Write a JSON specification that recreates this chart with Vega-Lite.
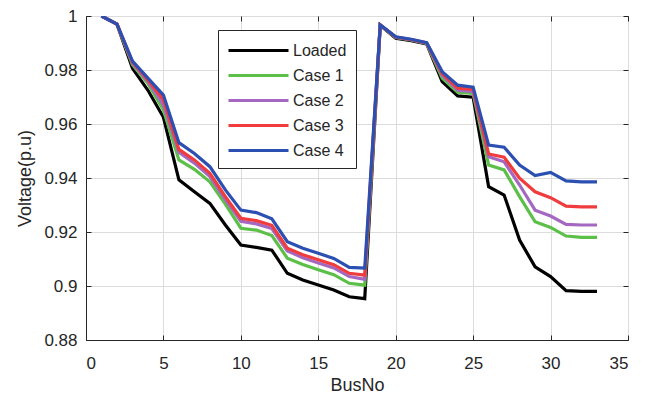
{
  "$schema": "https://vega.github.io/schema/vega-lite/v6.json",
  "autosize": {"type": "none"},
  "padding": {"left": 86, "top": 16, "right": 23, "bottom": 62},
  "width": 542,
  "height": 324,
  "background": "white",
  "config": {
    "font": "Liberation Sans",
    "view": {"stroke": "#262626", "strokeWidth": 1},
    "axis": {
      "labelFont": "Liberation Sans",
      "titleFont": "Liberation Sans",
      "labelColor": "#262626",
      "titleColor": "#262626",
      "labelFontSize": 17,
      "titleFontSize": 18,
      "titleFontWeight": "normal",
      "domainColor": "#262626",
      "tickColor": "#262626",
      "gridColor": "#dcdcdc",
      "gridWidth": 1
    }
  },
  "data": {"values": [
    {"bus":1,"series":"Loaded","v":1},{"bus":1,"series":"Case 1","v":1},{"bus":1,"series":"Case 2","v":1},{"bus":1,"series":"Case 3","v":1},{"bus":1,"series":"Case 4","v":1},
    {"bus":2,"series":"Loaded","v":0.997},{"bus":2,"series":"Case 1","v":0.997},{"bus":2,"series":"Case 2","v":0.997},{"bus":2,"series":"Case 3","v":0.997},{"bus":2,"series":"Case 4","v":0.997},
    {"bus":3,"series":"Loaded","v":0.9806},{"bus":3,"series":"Case 1","v":0.982},{"bus":3,"series":"Case 2","v":0.9825},{"bus":3,"series":"Case 3","v":0.983},{"bus":3,"series":"Case 4","v":0.9833},
    {"bus":4,"series":"Loaded","v":0.9725},{"bus":4,"series":"Case 1","v":0.975},{"bus":4,"series":"Case 2","v":0.9758},{"bus":4,"series":"Case 3","v":0.9763},{"bus":4,"series":"Case 4","v":0.977},
    {"bus":5,"series":"Loaded","v":0.9625},{"bus":5,"series":"Case 1","v":0.9652},{"bus":5,"series":"Case 2","v":0.967},{"bus":5,"series":"Case 3","v":0.969},{"bus":5,"series":"Case 4","v":0.9707},
    {"bus":6,"series":"Loaded","v":0.9393},{"bus":6,"series":"Case 1","v":0.9467},{"bus":6,"series":"Case 2","v":0.9495},{"bus":6,"series":"Case 3","v":0.9506},{"bus":6,"series":"Case 4","v":0.9531},
    {"bus":7,"series":"Loaded","v":0.9349},{"bus":7,"series":"Case 1","v":0.9432},{"bus":7,"series":"Case 2","v":0.9455},{"bus":7,"series":"Case 3","v":0.9467},{"bus":7,"series":"Case 4","v":0.9491},
    {"bus":8,"series":"Loaded","v":0.9306},{"bus":8,"series":"Case 1","v":0.9386},{"bus":8,"series":"Case 2","v":0.9405},{"bus":8,"series":"Case 3","v":0.9417},{"bus":8,"series":"Case 4","v":0.9442},
    {"bus":9,"series":"Loaded","v":0.9226},{"bus":9,"series":"Case 1","v":0.9303},{"bus":9,"series":"Case 2","v":0.932},{"bus":9,"series":"Case 3","v":0.9331},{"bus":9,"series":"Case 4","v":0.9356},
    {"bus":10,"series":"Loaded","v":0.9152},{"bus":10,"series":"Case 1","v":0.9214},{"bus":10,"series":"Case 2","v":0.924},{"bus":10,"series":"Case 3","v":0.9251},{"bus":10,"series":"Case 4","v":0.9281},
    {"bus":11,"series":"Loaded","v":0.9143},{"bus":11,"series":"Case 1","v":0.9207},{"bus":11,"series":"Case 2","v":0.923},{"bus":11,"series":"Case 3","v":0.9242},{"bus":11,"series":"Case 4","v":0.9272},
    {"bus":12,"series":"Loaded","v":0.9133},{"bus":12,"series":"Case 1","v":0.9187},{"bus":12,"series":"Case 2","v":0.9213},{"bus":12,"series":"Case 3","v":0.9225},{"bus":12,"series":"Case 4","v":0.9249},
    {"bus":13,"series":"Loaded","v":0.9047},{"bus":13,"series":"Case 1","v":0.9103},{"bus":13,"series":"Case 2","v":0.913},{"bus":13,"series":"Case 3","v":0.914},{"bus":13,"series":"Case 4","v":0.9164},
    {"bus":14,"series":"Loaded","v":0.9022},{"bus":14,"series":"Case 1","v":0.908},{"bus":14,"series":"Case 2","v":0.9105},{"bus":14,"series":"Case 3","v":0.9116},{"bus":14,"series":"Case 4","v":0.914},
    {"bus":15,"series":"Loaded","v":0.9004},{"bus":15,"series":"Case 1","v":0.906},{"bus":15,"series":"Case 2","v":0.9085},{"bus":15,"series":"Case 3","v":0.9097},{"bus":15,"series":"Case 4","v":0.9121},
    {"bus":16,"series":"Loaded","v":0.8985},{"bus":16,"series":"Case 1","v":0.9042},{"bus":16,"series":"Case 2","v":0.9067},{"bus":16,"series":"Case 3","v":0.9079},{"bus":16,"series":"Case 4","v":0.9102},
    {"bus":17,"series":"Loaded","v":0.896},{"bus":17,"series":"Case 1","v":0.901},{"bus":17,"series":"Case 2","v":0.9035},{"bus":17,"series":"Case 3","v":0.9047},{"bus":17,"series":"Case 4","v":0.9069},
    {"bus":18,"series":"Loaded","v":0.8953},{"bus":18,"series":"Case 1","v":0.9003},{"bus":18,"series":"Case 2","v":0.9025},{"bus":18,"series":"Case 3","v":0.904},{"bus":18,"series":"Case 4","v":0.9066},
    {"bus":19,"series":"Loaded","v":0.9966},{"bus":19,"series":"Case 1","v":0.9966},{"bus":19,"series":"Case 2","v":0.9967},{"bus":19,"series":"Case 3","v":0.9967},{"bus":19,"series":"Case 4","v":0.9967},
    {"bus":20,"series":"Loaded","v":0.9918},{"bus":20,"series":"Case 1","v":0.992},{"bus":20,"series":"Case 2","v":0.9921},{"bus":20,"series":"Case 3","v":0.9922},{"bus":20,"series":"Case 4","v":0.9923},
    {"bus":21,"series":"Loaded","v":0.9909},{"bus":21,"series":"Case 1","v":0.9911},{"bus":21,"series":"Case 2","v":0.9912},{"bus":21,"series":"Case 3","v":0.9913},{"bus":21,"series":"Case 4","v":0.9914},
    {"bus":22,"series":"Loaded","v":0.9897},{"bus":22,"series":"Case 1","v":0.9898},{"bus":22,"series":"Case 2","v":0.9899},{"bus":22,"series":"Case 3","v":0.99},{"bus":22,"series":"Case 4","v":0.9901},
    {"bus":23,"series":"Loaded","v":0.9757},{"bus":23,"series":"Case 1","v":0.977},{"bus":23,"series":"Case 2","v":0.978},{"bus":23,"series":"Case 3","v":0.9787},{"bus":23,"series":"Case 4","v":0.9794},
    {"bus":24,"series":"Loaded","v":0.9704},{"bus":24,"series":"Case 1","v":0.9718},{"bus":24,"series":"Case 2","v":0.9725},{"bus":24,"series":"Case 3","v":0.9733},{"bus":24,"series":"Case 4","v":0.9744},
    {"bus":25,"series":"Loaded","v":0.9699},{"bus":25,"series":"Case 1","v":0.9713},{"bus":25,"series":"Case 2","v":0.972},{"bus":25,"series":"Case 3","v":0.9728},{"bus":25,"series":"Case 4","v":0.9736},
    {"bus":26,"series":"Loaded","v":0.9368},{"bus":26,"series":"Case 1","v":0.9448},{"bus":26,"series":"Case 2","v":0.9479},{"bus":26,"series":"Case 3","v":0.9489},{"bus":26,"series":"Case 4","v":0.9522},
    {"bus":27,"series":"Loaded","v":0.9337},{"bus":27,"series":"Case 1","v":0.943},{"bus":27,"series":"Case 2","v":0.946},{"bus":27,"series":"Case 3","v":0.9477},{"bus":27,"series":"Case 4","v":0.9514},
    {"bus":28,"series":"Loaded","v":0.917},{"bus":28,"series":"Case 1","v":0.9331},{"bus":28,"series":"Case 2","v":0.9374},{"bus":28,"series":"Case 3","v":0.9399},{"bus":28,"series":"Case 4","v":0.9448},
    {"bus":29,"series":"Loaded","v":0.9071},{"bus":29,"series":"Case 1","v":0.9238},{"bus":29,"series":"Case 2","v":0.9281},{"bus":29,"series":"Case 3","v":0.9349},{"bus":29,"series":"Case 4","v":0.9409},
    {"bus":30,"series":"Loaded","v":0.9035},{"bus":30,"series":"Case 1","v":0.9217},{"bus":30,"series":"Case 2","v":0.9259},{"bus":30,"series":"Case 3","v":0.9327},{"bus":30,"series":"Case 4","v":0.9421},
    {"bus":31,"series":"Loaded","v":0.8983},{"bus":31,"series":"Case 1","v":0.9185},{"bus":31,"series":"Case 2","v":0.9228},{"bus":31,"series":"Case 3","v":0.9296},{"bus":31,"series":"Case 4","v":0.9389},
    {"bus":32,"series":"Loaded","v":0.898},{"bus":32,"series":"Case 1","v":0.918},{"bus":32,"series":"Case 2","v":0.9226},{"bus":32,"series":"Case 3","v":0.9293},{"bus":32,"series":"Case 4","v":0.9386},
    {"bus":33,"series":"Loaded","v":0.898},{"bus":33,"series":"Case 1","v":0.918},{"bus":33,"series":"Case 2","v":0.9226},{"bus":33,"series":"Case 3","v":0.9293},{"bus":33,"series":"Case 4","v":0.9386}
  ]},
  "layer": [
    {
      "mark": {"type": "point", "opacity": 0},
      "encoding": {
        "x": {"field": "bus", "type": "quantitative", "scale": {"domain": [0, 35], "nice": false, "zero": false},
              "axis": {"orient": "top", "labels": false, "title": null, "grid": false, "domain": false, "values": [0,5,10,15,20,25,30,35], "tickSize": -5}},
        "y": {"field": "v", "type": "quantitative", "scale": {"domain": [0.88, 1], "nice": false, "zero": false},
              "axis": {"orient": "right", "labels": false, "title": null, "grid": false, "domain": false, "values": [0.88,0.9,0.92,0.94,0.96,0.98,1], "tickSize": -5}}
      }
    },
    {
      "mark": {"type": "line", "strokeWidth": 3.2, "clip": true},
      "encoding": {
        "x": {"field": "bus", "type": "quantitative", "scale": {"domain": [0, 35], "nice": false, "zero": false},
              "axis": {"orient": "bottom", "title": "BusNo", "values": [0,5,10,15,20,25,30,35], "tickSize": -5, "labelPadding": 20, "titlePadding": 5, "grid": true}},
        "y": {"field": "v", "type": "quantitative", "scale": {"domain": [0.88, 1], "nice": false, "zero": false},
              "axis": {"orient": "left", "title": "Voltage(p.u)", "values": [0.88,0.9,0.92,0.94,0.96,0.98,1], "format": "~g", "tickSize": -5, "labelPadding": 14, "titlePadding": 9, "grid": true}},
        "color": {"field": "series", "type": "nominal",
                  "scale": {"domain": ["Loaded", "Case 1", "Case 2", "Case 3", "Case 4"], "range": ["#000000", "#5cbf48", "#a468c2", "#f03c3c", "#2c4fb2"]},
                  "legend": {"title": null, "orient": "none", "legendX": 132, "legendY": 14,
                             "symbolType": "M-3,0H3", "symbolSize": 400, "symbolStrokeWidth": 3, "symbolOffset": 20,
                             "labelFontSize": 16, "labelColor": "#262626", "labelFont": "Liberation Sans",
                             "strokeColor": "#262626", "fillColor": "white", "padding": 9, "rowPadding": 5, "labelOffset": 23}},
        "order": {"field": "bus", "type": "quantitative"}
      }
    }
  ],
  "resolve": {"axis": {"x": "independent", "y": "independent"}}
}
